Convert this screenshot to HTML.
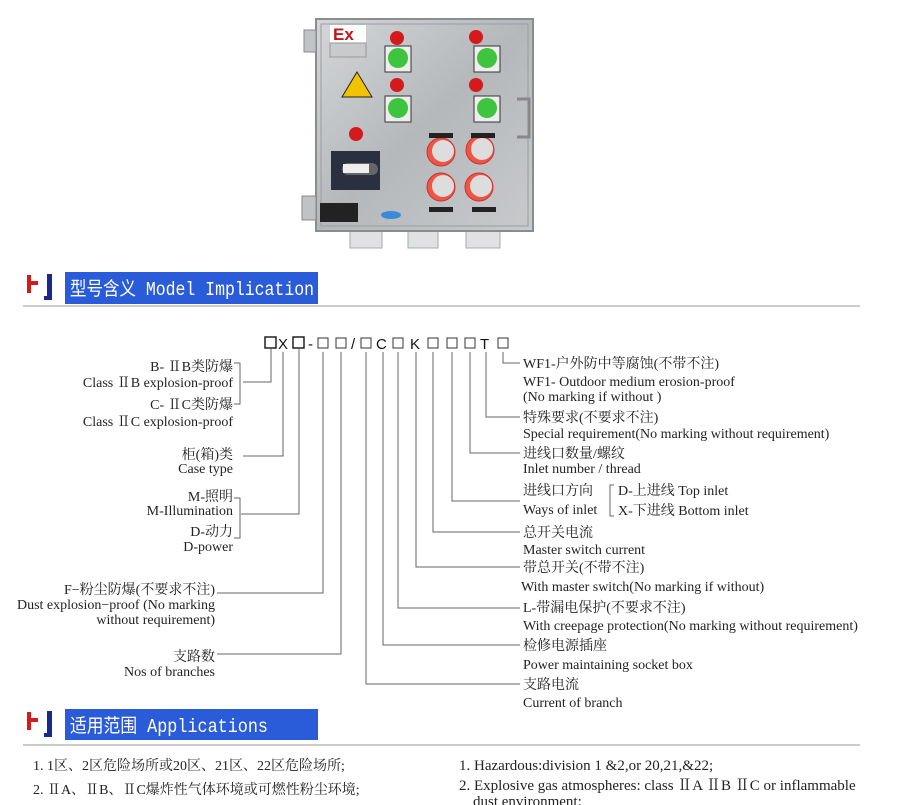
<!DOCTYPE html>
<html><head><meta charset="utf-8">
<style>
html,body{margin:0;padding:0;background:#fff;}
body{width:900px;height:805px;overflow:hidden;position:relative;}
svg{position:absolute;left:0;top:0;}
.s{font-family:"Liberation Serif","Noto Serif CJK SC",serif;font-size:14px;fill:#222;}
.h{font-family:"Liberation Mono","Noto Sans CJK SC",monospace;font-size:19px;fill:#fff;}
.c{font-family:"Liberation Sans","DejaVu Sans",sans-serif;font-size:15px;fill:#111;}
.b{font-family:"Liberation Serif","Noto Serif CJK SC",serif;font-size:14px;fill:#222;}
</style></head><body>
<svg width="900" height="805" viewBox="0 0 900 805">
<defs>
<linearGradient id="st" x1="0" y1="0" x2="1" y2="1">
<stop offset="0" stop-color="#d4d6d8"/><stop offset="0.5" stop-color="#b5b8bb"/><stop offset="1" stop-color="#c8cacc"/></linearGradient>
</defs>
<g>
<rect x="350" y="230" width="32" height="18" fill="#dfe1e3" stroke="#aaa"/>
<rect x="408" y="230" width="30" height="18" fill="#dfe1e3" stroke="#aaa"/>
<rect x="466" y="230" width="34" height="18" fill="#dfe1e3" stroke="#aaa"/>
<rect x="316" y="19" width="217" height="212" fill="url(#st)" stroke="#8a8d90" stroke-width="2"/>
<rect x="321" y="24" width="207" height="202" fill="none" stroke="#9a9da0"/>
<rect x="304" y="30" width="12" height="22" fill="#c0c3c6" stroke="#888"/>
<rect x="302" y="196" width="14" height="24" fill="#c0c3c6" stroke="#888"/>
<path d="M517 99 h12 v38 h-12" fill="none" stroke="#888" stroke-width="3"/>
<rect x="330" y="25" width="36" height="18" fill="#fff"/>
<text x="333" y="40" font-family="Liberation Sans" font-weight="bold" font-size="17" fill="#c01818">Ex</text>
<rect x="330" y="43" width="36" height="14" fill="#c8cacb" stroke="#999"/>
<polygon points="357,72 372,97 342,97" fill="#f2c400" stroke="#222"/>
<circle cx="397" cy="38" r="7" fill="#d41a1a"/><circle cx="476" cy="37" r="7" fill="#d41a1a"/>
<circle cx="397" cy="85" r="7" fill="#d41a1a"/><circle cx="476" cy="85" r="7" fill="#d41a1a"/>
<circle cx="356" cy="134" r="7" fill="#d41a1a"/>
<rect x="385" y="46" width="26" height="26" fill="#eee" stroke="#333"/><circle cx="398" cy="58" r="10" fill="#3ec43e"/>
<rect x="474" y="46" width="26" height="26" fill="#eee" stroke="#333"/><circle cx="487" cy="58" r="10" fill="#3ec43e"/>
<rect x="385" y="96" width="26" height="26" fill="#eee" stroke="#333"/><circle cx="398" cy="108" r="10" fill="#3ec43e"/>
<rect x="474" y="96" width="26" height="26" fill="#eee" stroke="#333"/><circle cx="487" cy="108" r="10" fill="#3ec43e"/>
<rect x="331" y="151" width="49" height="39" fill="#2a3040"/>
<rect x="342" y="163" width="36" height="12" rx="6" fill="#666"/><rect x="343" y="164" width="26" height="9" fill="#eee"/>
<g fill="#e54" stroke="#c33"><circle cx="441" cy="152" r="14"/><circle cx="480" cy="150" r="14"/><circle cx="441" cy="187" r="14"/><circle cx="479" cy="187" r="14"/></g>
<g fill="#ddd"><circle cx="443" cy="151" r="11"/><circle cx="482" cy="149" r="11"/><circle cx="443" cy="186" r="11"/><circle cx="481" cy="186" r="11"/></g>
<g fill="#222"><rect x="429" y="133" width="24" height="5"/><rect x="471" y="133" width="24" height="5"/><rect x="429" y="207" width="24" height="5"/><rect x="472" y="207" width="24" height="5"/></g>
<rect x="320" y="203" width="38" height="19" fill="#222"/>
<ellipse cx="391" cy="215" rx="10" ry="4" fill="#3a8ad8"/>
</g>
<path d="M27 275 v18 h4 v-8 h7 v-4 h-7 v-6z" fill="#d41a1a"/>
<path d="M44 300 h8 v-26 h-5 v22 h-3z" fill="#1a2a8a"/>
<rect x="65" y="272" width="253" height="32" fill="#2a5bd8"/>
<text x="70" y="295" class="h" textLength="244" lengthAdjust="spacingAndGlyphs">型号含义 Model Implication</text>
<rect x="23" y="305" width="837" height="2" fill="#ccc"/>
<path d="M27 712 v18 h4 v-8 h7 v-4 h-7 v-6z" fill="#d41a1a"/>
<path d="M44 737 h8 v-26 h-5 v22 h-3z" fill="#1a2a8a"/>
<rect x="65" y="709" width="253" height="31" fill="#2a5bd8"/>
<text x="70" y="732" class="h" textLength="198" lengthAdjust="spacingAndGlyphs">适用范围 Applications</text>
<rect x="23" y="744" width="837" height="2" fill="#ccc"/>
<g fill="none" stroke="#111" stroke-width="1.4">
<rect x="265" y="337" width="11" height="11"/><rect x="293" y="337" width="11" height="11"/>
</g>
<g fill="none" stroke="#333" stroke-width="1">
<rect x="318" y="338" width="10" height="10"/><rect x="336" y="338" width="10" height="10"/>
<rect x="361" y="338" width="10" height="10"/><rect x="393" y="338" width="10" height="10"/>
<rect x="428" y="338" width="10" height="10"/><rect x="447" y="338" width="10" height="10"/>
<rect x="465" y="338" width="10" height="10"/><rect x="498" y="338" width="10" height="10"/>
</g>
<g class="c">
<text x="278" y="349">X</text><text x="308" y="349">-</text><text x="351" y="349">/</text>
<text x="376" y="349">C</text><text x="410" y="349">K</text><text x="480" y="349">T</text>
</g>
<g fill="none" stroke="#666" stroke-width="1">
<path d="M271 349 V382 H243"/><path d="M234 363 H240 V404 H234"/>
<path d="M283 352 V456 H243"/>
<path d="M299 349 V514 H241"/><path d="M234 498 H240 V538 H234"/>
<path d="M323 352 V593 H217"/>
<path d="M341 352 V654 H217"/>
<path d="M366 352 V684 H520"/>
<path d="M383 352 V645 H520"/>
<path d="M398 352 V608 H520"/>
<path d="M416 352 V567 H520"/>
<path d="M433 352 V532 H520"/>
<path d="M452 352 V501 H520"/>
<path d="M470 352 V453 H520"/>
<path d="M486 352 V417 H520"/>
<path d="M503 352 V363 H520"/>
<path d="M614 485 H610 V516 H614"/>
</g>
<g class="s" text-anchor="end">
<text x="233" y="371">B- ⅡB类防爆</text>
<text x="233" y="387">Class ⅡB  explosion-proof</text>
<text x="233" y="409">C- ⅡC类防爆</text>
<text x="233" y="426">Class ⅡC  explosion-proof</text>
<text x="233" y="459">柜(箱)类</text>
<text x="233" y="473">Case type</text>
<text x="233" y="501">M-照明</text>
<text x="233" y="515">M-Illumination</text>
<text x="233" y="536">D-动力</text>
<text x="233" y="551">D-power</text>
<text x="215" y="594">F−粉尘防爆(不要求不注)</text>
<text x="215" y="609">Dust explosion−proof (No marking</text>
<text x="215" y="624">without requirement)</text>
<text x="215" y="661">支路数</text>
<text x="215" y="676">Nos of branches</text>
</g>
<g class="s">
<text x="523" y="368">WF1-户外防中等腐蚀(不带不注)</text>
<text x="523" y="386">WF1- Outdoor medium erosion-proof</text>
<text x="523" y="401">(No marking  if without )</text>
<text x="523" y="422">特殊要求(不要求不注)</text>
<text x="523" y="438">Special requirement(No marking without requirement)</text>
<text x="523" y="458">进线口数量/螺纹</text>
<text x="523" y="473">Inlet  number / thread</text>
<text x="523" y="495">进线口方向</text>
<text x="618" y="495">D-上进线  Top  inlet</text>
<text x="523" y="514">Ways of  inlet</text>
<text x="618" y="515">X-下进线  Bottom  inlet</text>
<text x="523" y="537">总开关电流</text>
<text x="523" y="554">Master switch current</text>
<text x="523" y="572">带总开关(不带不注)</text>
<text x="521" y="591">With  master  switch(No marking if without)</text>
<text x="523" y="612">L-带漏电保护(不要求不注)</text>
<text x="523" y="630">With creepage  protection(No marking without requirement)</text>
<text x="523" y="650">检修电源插座</text>
<text x="523" y="669">Power maintaining  socket box</text>
<text x="523" y="689">支路电流</text>
<text x="523" y="707">Current of branch</text>
</g>
<g class="b">
<text x="33" y="770">1. 1区、2区危险场所或20区、21区、22区危险场所;</text>
<text x="33" y="794">2. ⅡA、ⅡB、ⅡC爆炸性气体环境或可燃性粉尘环境;</text>
<text x="459" y="770" font-size="15">1. Hazardous:division 1 &amp;2,or 20,21,&amp;22;</text>
<text x="459" y="790" font-size="15">2. Explosive gas atmospheres: class ⅡA ⅡB ⅡC or inflammable</text>
<text x="473" y="806" font-size="15">dust environment:</text>
</g>
</svg>
</body></html>
